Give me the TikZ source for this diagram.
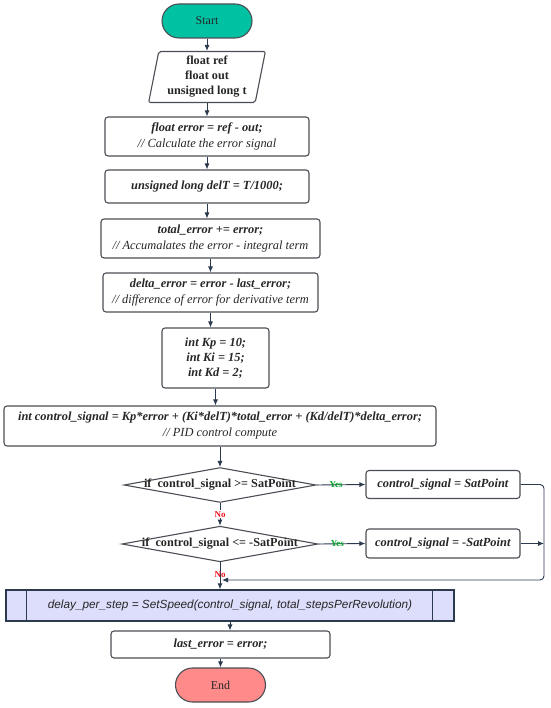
\documentclass[tikz,border=0pt]{standalone}
\usepackage{fontspec}
\setmainfont{Liberation Serif}
\setsansfont{Liberation Sans}
\usetikzlibrary{arrows.meta, positioning, shapes.geometric, calc}
\definecolor{edgegray}{RGB}{75,78,84}
\definecolor{arrnavy}{RGB}{44,58,78}
\definecolor{startteal}{RGB}{0,194,163}
\definecolor{endred}{RGB}{255,138,138}
\definecolor{callblue}{RGB}{221,221,252}
\definecolor{yesgreen}{RGB}{0,160,40}
\definecolor{nored}{RGB}{235,20,30}
\tikzset{
  >={Latex[length=6pt,width=5pt]},
  % blocchi
  base/.style={draw=edgegray,line width=1.1pt,align=center,text=black!85,
    font=\fontsize{12.4}{16}\selectfont,inner sep=2pt},
  proc/.style={base,rectangle,rounded corners=3pt},
  term/.style={base,rectangle,rounded corners=17pt,minimum width=90,minimum height=34,
    font=\fontsize{12}{14}\selectfont},
  iobox/.style={base,trapezium,trapezium left angle=79,trapezium right angle=101,
    trapezium stretches=true,minimum width=117,minimum height=51,rounded corners=2pt},
  cond/.style={base,diamond,aspect=5.5,inner xsep=-11pt,inner ysep=0pt,
    font=\bfseries\fontsize{12.2}{13}\selectfont},
  call/.style={base,rectangle,draw=arrnavy,fill=callblue,line width=1.3pt,
    font=\sffamily\itshape\fontsize{11.8}{13}\selectfont},
  % frecce
  flow/.style={->,draw=arrnavy,line width=0.9pt},
  yes/.style={font=\bfseries\fontsize{9}{10}\selectfont,text=yesgreen},
  no/.style={font=\bfseries\fontsize{9}{10}\selectfont,text=nored}
}
\begin{document}
\begin{tikzpicture}[x=1pt,y=-1pt]
  \useasboundingbox (0,0) rectangle (550,708);
  \node[term,fill=startteal] (st) at (207,21) {Start};
  \node[iobox,font=\bfseries\fontsize{12.2}{15}\selectfont] (io) at (207,77) {float ref\\float out\\unsigned long t};
  \node[proc,minimum width=204,minimum height=39] (err) at (207,136.5)
    {\textbf{\textit{float error = ref - out;}}\\\textit{// Calculate the error signal}};
  \node[proc,minimum width=204,minimum height=33] (dt) at (207,186.5)
    {\textbf{\textit{unsigned long delT = T/1000;}}};
  \node[proc,minimum width=219,minimum height=39] (tot) at (210.5,238.5)
    {\textbf{\textit{total\_error += error;}}\\\textit{// Accumalates the error - integral term}};
  \node[proc,minimum width=215,minimum height=39] (del) at (210.5,292.5)
    {\textbf{\textit{delta\_error = error - last\_error;}}\\\textit{// difference of error for derivative term}};
  \node[proc,minimum width=107,minimum height=60,font=\bfseries\itshape\fontsize{12.4}{15}\selectfont] (gain) at (215.5,358)
    {int Kp = 10;\\ int Ki = 15;\\ int Kd = 2;};
  \node[proc,minimum width=432,minimum height=40] (pid) at (220,426)
    {\textbf{\textit{int control\_signal = Kp*error + (Ki*delT)*total\_error + (Kd/delT)*delta\_error;}}\\\textit{// PID control compute}};
  \node[cond] (c1) at (220,485) {if\ \ control\_signal >= SatPoint};
  \node[proc,minimum width=154,minimum height=28] (s1) at (443,484.5)
    {\textbf{\textit{control\_signal = SatPoint}}};
  \node[cond] (c2) at (220,544) {if\ \ control\_signal <= -SatPoint};
  \node[proc,minimum width=154,minimum height=29] (s2) at (443,543.5)
    {\textbf{\textit{control\_signal = -SatPoint}}};
  \node[call,minimum width=448,minimum height=31] (spd) at (230,605.5)
    {delay\_per\_step = SetSpeed(control\_signal, total\_stepsPerRevolution)};
  \draw[draw=arrnavy,line width=1.1pt] ($(spd.north west)+(21,0)$) -- ($(spd.south west)+(21,0)$);
  \draw[draw=arrnavy,line width=1.1pt] ($(spd.north east)+(-22,0)$) -- ($(spd.south east)+(-22,0)$);
  \node[proc,minimum width=219,minimum height=27] (last) at (220.5,644.5)
    {\textbf{\textit{last\_error = error;}}};
  \node[term,fill=endred] (en) at (220.5,685) {End};
  \coordinate (rgt) at (544,0);
  \coordinate (mrg) at (222,580);
  % collegamenti
  \foreach \a/\b in {st/io,io/err,err/dt,dt/tot,tot/del,del/gain,gain/pid,pid/c1,spd/last,last/en}
    \draw[flow] (\a.south) -- (\a.south |- \b.north);
  \draw[flow] (c1.south) -- node[no,fill=white,inner sep=1pt]{No} (c2.north);
  \draw[flow] (c2.south) -- (c2.south |- spd.north);
  \node[no] at (220,575) {No};
  \draw[flow] (c1.east) -- node[yes,pos=0.4]{Yes} (s1.west);
  \draw[flow] (c2.east) -- node[yes,pos=0.4]{Yes} (s2.west);
  \draw[flow,rounded corners=4pt] (s1.east) -- (s1.east -| rgt) |- (mrg);
  \draw[flow] (s2.east) -- (s2.east -| rgt);
\end{tikzpicture}
\end{document}
